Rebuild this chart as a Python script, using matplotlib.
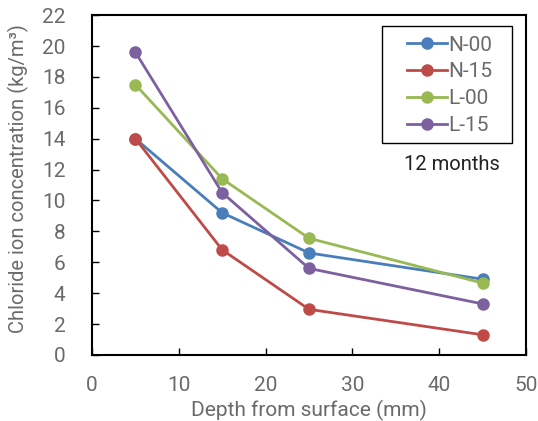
import matplotlib
matplotlib.use("Agg")
import matplotlib.pyplot as plt
from matplotlib.patches import Rectangle

depth = [5, 15, 25, 45]
n00 = [14.0, 9.2, 6.6, 4.9]
n15 = [14.0, 6.8, 2.95, 1.3]
l00 = [17.5, 11.4, 7.55, 4.65]
l15 = [19.6, 10.5, 5.6, 3.3]
labels = ["N-00", "N-15", "L-00", "L-15"]
colors = ["#4a7ebb", "#be4b48", "#98b954", "#7d60a0"]
xticks = [0, 10, 20, 30, 40, 50]
yticks = list(range(0, 23, 2))

plt.rcParams['font.family'] = ['Roboto', 'DejaVu Sans']
gray = "#6a6a6a"

fig = plt.figure(figsize=(5.38, 4.21), dpi=100)
ax = fig.add_axes([0.171, 0.157, 0.807, 0.807])

for ys, lab, c in zip([n00, n15, l00, l15], labels, colors):
    ax.plot(depth, ys, color=c, lw=2, marker='o', markersize=8, label=lab)

ax.set_xlim(0, 50)
ax.set_ylim(0, 22)
ax.set_xticks(xticks)
ax.set_yticks(yticks)
ax.tick_params(direction='in', length=5, width=1, colors='black', labelcolor=gray,
               labelsize=15)
ax.tick_params(axis='x', pad=15)
ax.tick_params(axis='y', pad=19)
for s in ax.spines.values():
    s.set_linewidth(1.5)
    s.set_color('black')

ax.set_xlabel("Depth from surface (mm)", fontsize=15, color=gray, labelpad=4)
ax.set_ylabel("Chloride ion concentration (kg/m³)", fontsize=14.5, color=gray, labelpad=2)
ax.yaxis.set_label_coords(-0.145, 0.52)

ax.add_patch(Rectangle((0.668, 0.6235), 0.30, 0.344, transform=ax.transAxes,
                       fill=False, edgecolor='black', lw=1, zorder=5))
leg = ax.legend(loc='upper left', bbox_to_anchor=(0.726, 0.94), fontsize=15,
                frameon=False, handlelength=1.92, handletextpad=0.05,
                labelspacing=0.38, borderpad=0, borderaxespad=0)
for t in leg.get_texts():
    t.set_color(gray)

ax.text(0.83, 0.56, "12 months", transform=ax.transAxes, ha='center', va='center',
        fontsize=14.5, color='#222222')

fig.savefig("out.png", dpi=100)
